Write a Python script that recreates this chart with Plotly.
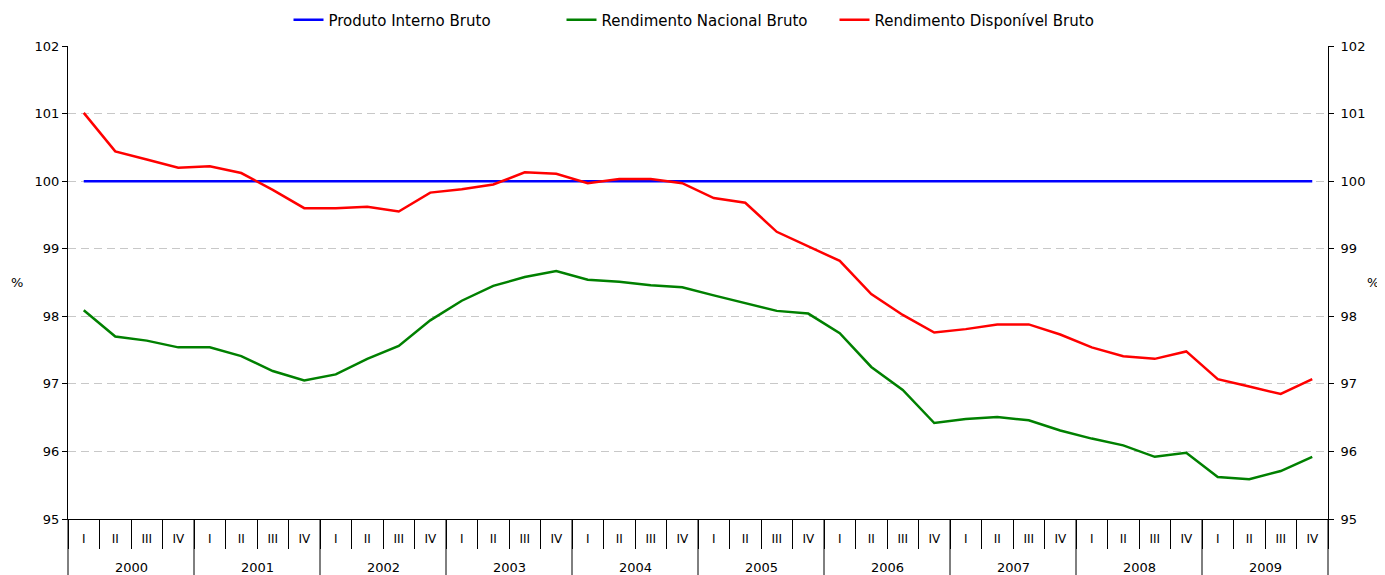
import plotly.graph_objects as go

years = ["2000", "2001", "2002", "2003", "2004", "2005", "2006", "2007", "2008", "2009"]
quarters = ["I", "II", "III", "IV"]

pib = [100.0] * 40

rnb = [98.09, 97.70, 97.64, 97.54,
       97.54, 97.41, 97.19, 97.05,
       97.14, 97.37, 97.56, 97.94,
       98.23, 98.45, 98.58, 98.67,
       98.54, 98.51, 98.46, 98.43,
       98.31, 98.20, 98.08, 98.04,
       97.75, 97.25, 96.91, 96.42,
       96.48, 96.51, 96.46, 96.31,
       96.19, 96.09, 95.92, 95.98,
       95.62, 95.59, 95.71, 95.92]

rdb = [101.01, 100.44, 100.32, 100.20,
       100.22, 100.12, 99.87, 99.60,
       99.60, 99.62, 99.55, 99.83,
       99.88, 99.95, 100.13, 100.11,
       99.97, 100.03, 100.03, 99.97,
       99.75, 99.68, 99.25, 99.03,
       98.82, 98.33, 98.02, 97.76,
       97.81, 97.88, 97.88, 97.73,
       97.54, 97.41, 97.37, 97.48,
       97.07, 96.96, 96.85, 97.07]

quarter_labels = [q for _ in years for q in quarters]
xs = list(range(len(quarter_labels)))
nq = len(quarters)

FONT = "DejaVu Sans, Verdana, sans-serif"

fig = go.Figure()
fig.add_trace(go.Scatter(x=xs, y=pib, mode="lines", name="Produto Interno Bruto",
                         line=dict(color="#0000FF", width=2.5)))
fig.add_trace(go.Scatter(x=xs, y=rnb, mode="lines", name="Rendimento Nacional Bruto",
                         line=dict(color="#008000", width=2.5)))
fig.add_trace(go.Scatter(x=xs, y=rdb, mode="lines", name="Rendimento Disponível Bruto",
                         line=dict(color="#FF0000", width=2.5)))
# invisible trace anchoring the right-hand axis
fig.add_trace(go.Scatter(x=xs, y=pib, mode="lines", yaxis="y2", showlegend=False,
                         hoverinfo="skip", line=dict(width=0, color="rgba(0,0,0,0)")))

# year dividers (full height below axis) and year labels
shapes = []
for i in range(len(years) + 1):
    xp = i * nq / len(xs)
    shapes.append(dict(type="line", xref="paper", yref="paper", x0=xp, x1=xp,
                       y0=0, y1=-0.2, line=dict(color="black", width=1)))
annotations = []
for i, yr in enumerate(years):
    annotations.append(dict(text=yr, xref="x", yref="paper", x=i * nq + (nq - 1) / 2,
                            y=0, yshift=-48, showarrow=False,
                            font=dict(size=13, family=FONT), yanchor="middle"))
annotations += [
    dict(text="%", xref="paper", yref="paper", x=-0.0405, y=0.5, showarrow=False,
         font=dict(size=13, family=FONT), xanchor="center", yanchor="middle"),
    dict(text="%", xref="paper", yref="paper", x=1.036, y=0.5, showarrow=False,
         font=dict(size=13, family=FONT), xanchor="center", yanchor="middle"),
]

fig.update_layout(
    width=1377, height=567,
    margin=dict(l=60, r=57, t=38, b=56, autoexpand=False),
    paper_bgcolor="white", plot_bgcolor="white",
    font=dict(family=FONT, size=13, color="black"),
    legend=dict(orientation="h", x=0.5, xanchor="center", y=1.055, yanchor="middle",
                font=dict(size=15, family=FONT), traceorder="normal",
                entrywidth=228, entrywidthmode="pixels"),
    xaxis=dict(range=[-0.5, len(xs) - 0.5], tickmode="array", tickvals=xs,
               ticktext=quarter_labels, ticks="outside", ticklen=9,
               tickcolor="rgba(0,0,0,0)", showline=True, linecolor="black", linewidth=1,
               showgrid=False, zeroline=False, tickfont=dict(size=12, family=FONT),
               minor=dict(tickvals=[i - 0.5 for i in range(len(xs) + 1)], ticks="outside",
                          ticklen=29, tickcolor="black", tickwidth=1, showgrid=False),
               automargin=False),
    yaxis=dict(range=[95, 102], dtick=1, tick0=95, showline=True, linecolor="black",
               linewidth=1, ticks="outside", ticklen=5, tickcolor="black",
               showgrid=True, gridcolor="#c8c8c8", griddash="8px,5px", gridwidth=1,
               zeroline=False, tickfont=dict(size=13, family=FONT), automargin=False),
    yaxis2=dict(range=[95, 102], dtick=1, tick0=95, overlaying="y", side="right",
                showline=True, linecolor="black", linewidth=1, ticks="outside",
                ticklen=5, tickcolor="black", showgrid=False, zeroline=False,
                ticklabelstandoff=4,
                tickfont=dict(size=13, family=FONT), automargin=False),
    shapes=shapes,
    annotations=annotations,
)

fig.write_html("out.html")
